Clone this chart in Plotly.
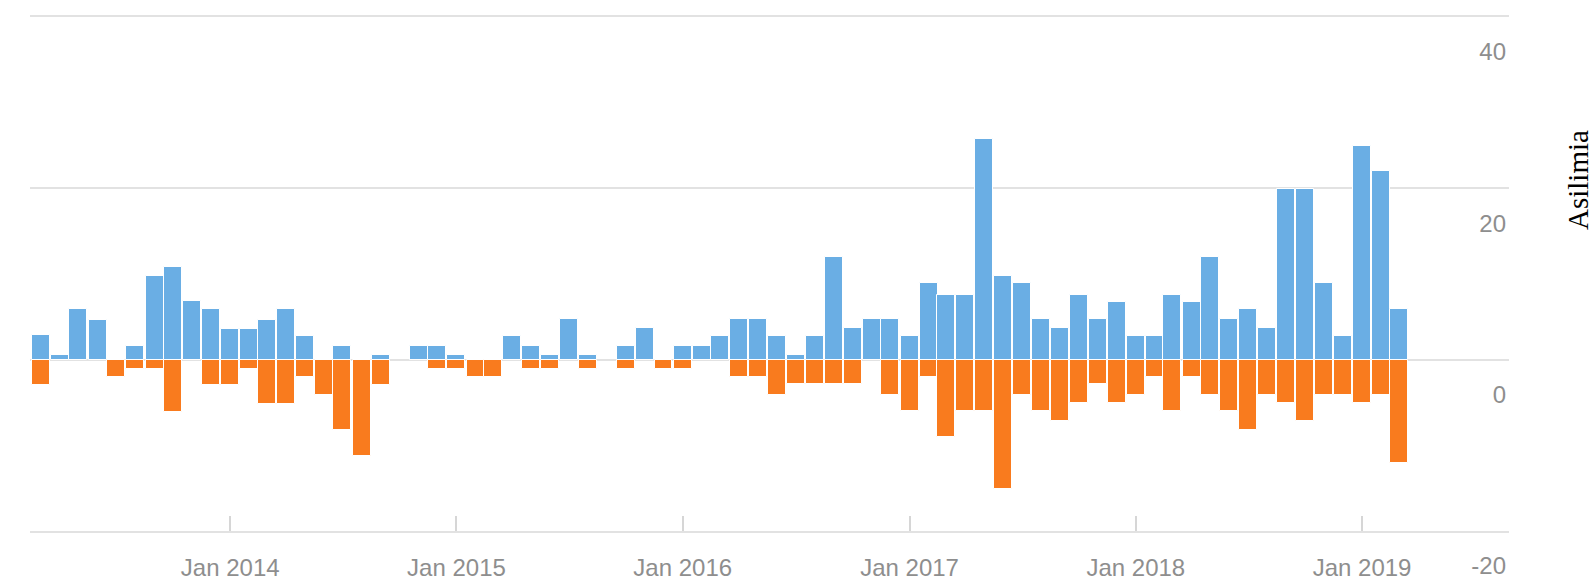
import plotly.graph_objects as go

# Monthly categories: Mar 2013 .. Mar 2019 (73 months)
months = [f"{y}-{m:02d}-01" for y in range(2013, 2020) for m in range(1, 13)]
months = months[months.index("2013-03-01"):months.index("2019-03-01") + 1]

blue_vals = [
    2.9, 0.6, 5.9, 4.6, 0, 1.6, 9.8, 10.8, 6.8, 5.9,       # Mar13-Dec13
    3.6, 3.6, 4.6, 5.9, 2.8, 0, 1.6, 0, 0.6, 0, 1.6, 1.6,  # 2014
    0.6, 0, 0, 2.8, 1.6, 0.6, 4.7, 0.6, 0, 1.6, 3.7, 0,    # 2015
    1.6, 1.6, 2.8, 4.7, 4.7, 2.8, 0.6, 2.8, 12.0, 3.7, 4.7, 4.7,  # 2016
    2.8, 8.9, 7.6, 7.6, 25.8, 9.8, 8.9, 4.7, 3.7, 7.6, 4.7, 6.7,  # 2017
    2.8, 2.8, 7.6, 6.7, 12.0, 4.7, 5.9, 3.7, 19.9, 19.9, 8.9, 2.8,  # 2018
    25.0, 22.0, 5.9,                                        # 2019
]
orange_vals = [
    -2.9, 0, 0, 0, -2.0, -1.1, -1.1, -6.1, 0, -2.9,
    -2.9, -1.1, -5.2, -5.2, -2.0, -4.1, -8.2, -11.2, -2.9, 0, 0, -1.1,
    -1.1, -2.0, -2.0, 0, -1.1, -1.1, 0, -1.1, 0, -1.1, 0, -1.1,
    -1.1, 0, 0, -2.0, -2.0, -4.1, -2.8, -2.8, -2.8, -2.8, 0, -4.1,
    -6.0, -2.0, -9.0, -6.0, -6.0, -15.1, -4.1, -6.0, -7.2, -5.1, -2.8, -5.1,
    -4.1, -2.0, -6.0, -2.0, -4.1, -6.0, -8.2, -4.1, -5.1, -7.2, -4.1, -4.1,
    -5.1, -4.1, -12.1,
]

y_ticks = [-20, 0, 20, 40]
y_tick_labels = ["-20", "0", "20", "40"]
axis_title = "Asilimia"

BLUE = "#6aaee4"
ORANGE = "#f97b1e"
GRID = "#e2e2e2"
LABEL = "#8e8e8e"
DAY_MS = 86400000

def nz(vals):
    return [v if v != 0 else None for v in vals]

fig = go.Figure()
fig.add_trace(go.Bar(x=months, y=nz(blue_vals), marker=dict(color=BLUE, line=dict(color="white", width=1)),
                     width=29 * DAY_MS, name="positive", hoverinfo="x+y"))
fig.add_trace(go.Bar(x=months, y=nz(orange_vals), marker=dict(color=ORANGE, line=dict(color="white", width=1)),
                     width=29 * DAY_MS, name="negative", hoverinfo="x+y"))

fig.update_layout(
    width=1596, height=588,
    margin=dict(l=30, r=87, t=17, b=57, autoexpand=False),
    paper_bgcolor="white", plot_bgcolor="white",
    barmode="relative", bargap=0,
    showlegend=False,
    font=dict(family="Liberation Sans, Arial, sans-serif", size=24, color=LABEL),
    xaxis=dict(
        type="date",
        range=["2013-02-12", "2019-08-26"],
        tick0="2014-01-01", dtick="M12", tickformat="%b %Y",
        ticks="inside", ticklen=15, tickwidth=2, tickcolor="#d6d6d6",
        showgrid=False, zeroline=False,
        showline=True, mirror=True, linecolor=GRID, linewidth=2,
        tickfont=dict(size=24, color=LABEL),
        ticklabelstandoff=14,
        automargin=False,
    ),
    yaxis=dict(
        side="right",
        range=[-20, 40],
        tickvals=y_ticks, ticktext=y_tick_labels,
        showgrid=True, gridcolor=GRID, gridwidth=2,
        zeroline=False, showline=False, ticks="",
        ticklabelposition="inside",
        ticklabelshift=35,
        ticklabeloverflow="allow",
        tickfont=dict(size=24, color=LABEL),
        automargin=False,
    ),
    annotations=[dict(
        text=axis_title, textangle=-90,
        xref="paper", yref="paper",
        x=(1578 - 30) / 1479, y=(531 - 180) / 514,
        xanchor="center", yanchor="middle", showarrow=False,
        font=dict(family="Liberation Serif, Times New Roman, serif", size=29, color="black"),
    )],
)

fig.write_html("out.html", config={"displayModeBar": False},
               post_script="document.body.style.margin='0';document.body.style.padding='0';")
